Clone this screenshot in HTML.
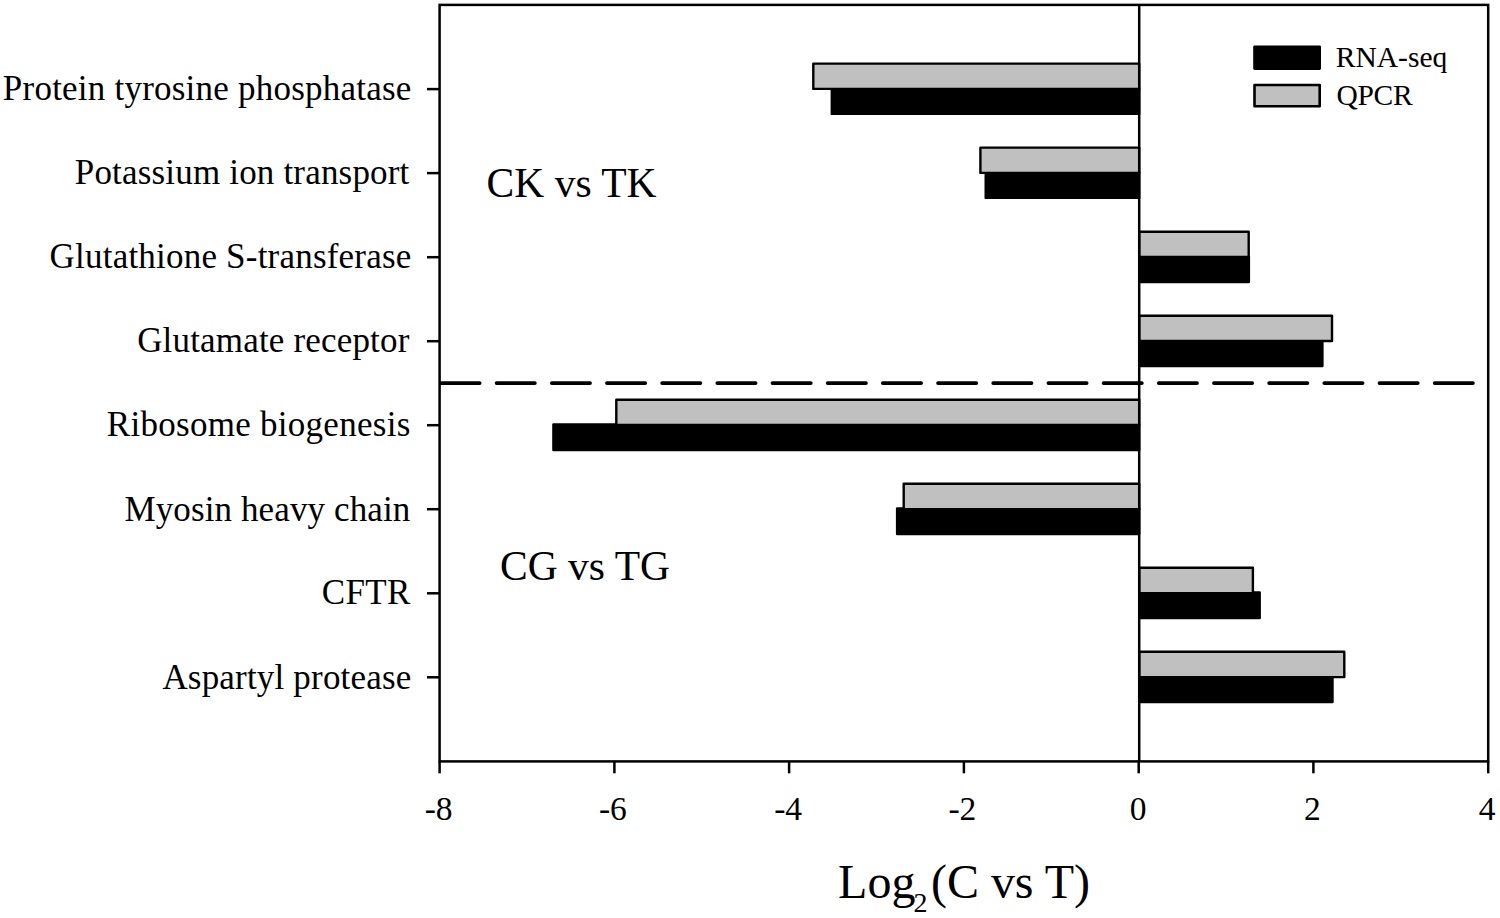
<!DOCTYPE html>
<html><head><meta charset="utf-8"><style>
html,body{margin:0;padding:0;background:#fff;width:1500px;height:918px;overflow:hidden}
svg{display:block}
text{font-family:"Liberation Serif",serif;fill:#000}
</style></head><body>
<svg width="1500" height="918" viewBox="0 0 1500 918">
<rect x="831.8" y="88.3" width="307.4" height="25.6" fill="#000" stroke="#000" stroke-width="2.4" stroke-linejoin="round"/>
<rect x="813.3" y="63.6" width="325.9" height="25.3" fill="#c0c0c0" stroke="#000" stroke-width="2.4" stroke-linejoin="round"/>
<rect x="985.7" y="172.3" width="153.5" height="25.6" fill="#000" stroke="#000" stroke-width="2.4" stroke-linejoin="round"/>
<rect x="980.4" y="147.6" width="158.8" height="25.3" fill="#c0c0c0" stroke="#000" stroke-width="2.4" stroke-linejoin="round"/>
<rect x="1139.2" y="256.4" width="109.7" height="25.6" fill="#000" stroke="#000" stroke-width="2.4" stroke-linejoin="round"/>
<rect x="1139.2" y="231.7" width="109.5" height="25.3" fill="#c0c0c0" stroke="#000" stroke-width="2.4" stroke-linejoin="round"/>
<rect x="1139.2" y="340.4" width="183.2" height="25.6" fill="#000" stroke="#000" stroke-width="2.4" stroke-linejoin="round"/>
<rect x="1139.2" y="315.7" width="192.8" height="25.3" fill="#c0c0c0" stroke="#000" stroke-width="2.4" stroke-linejoin="round"/>
<rect x="553.4" y="424.4" width="585.8" height="25.6" fill="#000" stroke="#000" stroke-width="2.4" stroke-linejoin="round"/>
<rect x="616.3" y="399.7" width="522.9" height="25.3" fill="#c0c0c0" stroke="#000" stroke-width="2.4" stroke-linejoin="round"/>
<rect x="897.1" y="508.4" width="242.1" height="25.6" fill="#000" stroke="#000" stroke-width="2.4" stroke-linejoin="round"/>
<rect x="903.7" y="483.8" width="235.5" height="25.3" fill="#c0c0c0" stroke="#000" stroke-width="2.4" stroke-linejoin="round"/>
<rect x="1139.2" y="592.5" width="120.5" height="25.6" fill="#000" stroke="#000" stroke-width="2.4" stroke-linejoin="round"/>
<rect x="1139.2" y="567.8" width="113.7" height="25.3" fill="#c0c0c0" stroke="#000" stroke-width="2.4" stroke-linejoin="round"/>
<rect x="1139.2" y="676.5" width="193.3" height="25.6" fill="#000" stroke="#000" stroke-width="2.4" stroke-linejoin="round"/>
<rect x="1139.2" y="651.8" width="205.1" height="25.3" fill="#c0c0c0" stroke="#000" stroke-width="2.4" stroke-linejoin="round"/>
<line x1="441.4" y1="383.1" x2="1488.2" y2="383.1" stroke="#000" stroke-width="3.7" stroke-linecap="round" stroke-dasharray="38.3 16.88"/>
<line x1="1139.2" y1="4.9" x2="1139.2" y2="761.4" stroke="#000" stroke-width="2.5"/>
<rect x="439.6" y="4.9" width="1048.6" height="756.5" fill="none" stroke="#000" stroke-width="2.5"/>
<line x1="427" y1="89.1" x2="439.6" y2="89.1" stroke="#000" stroke-width="2.5"/>
<line x1="427" y1="173.1" x2="439.6" y2="173.1" stroke="#000" stroke-width="2.5"/>
<line x1="427" y1="257.2" x2="439.6" y2="257.2" stroke="#000" stroke-width="2.5"/>
<line x1="427" y1="341.2" x2="439.6" y2="341.2" stroke="#000" stroke-width="2.5"/>
<line x1="427" y1="425.2" x2="439.6" y2="425.2" stroke="#000" stroke-width="2.5"/>
<line x1="427" y1="509.2" x2="439.6" y2="509.2" stroke="#000" stroke-width="2.5"/>
<line x1="427" y1="593.3" x2="439.6" y2="593.3" stroke="#000" stroke-width="2.5"/>
<line x1="427" y1="677.3" x2="439.6" y2="677.3" stroke="#000" stroke-width="2.5"/>
<line x1="439.6" y1="761.4" x2="439.6" y2="773.3" stroke="#000" stroke-width="2.5"/>
<text id="xl0" x="438.60" y="820.40" font-size="33.5" text-anchor="middle">-8</text>
<line x1="614.4" y1="761.4" x2="614.4" y2="773.3" stroke="#000" stroke-width="2.5"/>
<text id="xl1" x="612.87" y="820.40" font-size="33.5" text-anchor="middle">-6</text>
<line x1="789.1" y1="761.4" x2="789.1" y2="773.3" stroke="#000" stroke-width="2.5"/>
<text id="xl2" x="788.13" y="820.40" font-size="33.5" text-anchor="middle">-4</text>
<line x1="963.9" y1="761.4" x2="963.9" y2="773.3" stroke="#000" stroke-width="2.5"/>
<text id="xl3" x="962.40" y="820.40" font-size="33.5" text-anchor="middle">-2</text>
<line x1="1138.7" y1="761.4" x2="1138.7" y2="773.3" stroke="#000" stroke-width="2.5"/>
<text id="xl4" x="1138.17" y="820.40" font-size="33.5" text-anchor="middle">0</text>
<line x1="1313.4" y1="761.4" x2="1313.4" y2="773.3" stroke="#000" stroke-width="2.5"/>
<text id="xl5" x="1312.43" y="820.40" font-size="33.5" text-anchor="middle">2</text>
<line x1="1488.2" y1="761.4" x2="1488.2" y2="773.3" stroke="#000" stroke-width="2.5"/>
<text id="xl6" x="1487.20" y="820.40" font-size="33.5" text-anchor="middle">4</text>
<text id="yl0" x="411.30" y="99.80" font-size="35" text-anchor="end" textLength="408.44" lengthAdjust="spacing">Protein tyrosine phosphatase</text>
<text id="yl1" x="409.30" y="183.60" font-size="35" text-anchor="end" textLength="334.56" lengthAdjust="spacing">Potassium ion transport</text>
<text id="yl2" x="411.30" y="267.70" font-size="35" text-anchor="end" textLength="361.69" lengthAdjust="spacing">Glutathione S-transferase</text>
<text id="yl3" x="409.30" y="351.60" font-size="35" text-anchor="end" textLength="272.17" lengthAdjust="spacing">Glutamate receptor</text>
<text id="yl4" x="410.30" y="436.30" font-size="35" text-anchor="end" textLength="303.47" lengthAdjust="spacing">Ribosome biogenesis</text>
<text id="yl5" x="410.30" y="520.60" font-size="35" text-anchor="end" textLength="285.83" lengthAdjust="spacing">Myosin heavy chain</text>
<text id="yl6" x="410.30" y="604.40" font-size="35" text-anchor="end" textLength="88.55" lengthAdjust="spacing">CFTR</text>
<text id="yl7" x="411.30" y="688.50" font-size="35" text-anchor="end" textLength="248.89" lengthAdjust="spacing">Aspartyl protease</text>
<rect x="1254.5" y="46.9" width="65.2" height="21.7" fill="#000" stroke="#000" stroke-width="2.6" stroke-linejoin="round"/>
<rect x="1254.5" y="85" width="65.2" height="21.3" fill="#c0c0c0" stroke="#000" stroke-width="2.6" stroke-linejoin="round"/>
<text id="lg0" x="1335.80" y="67.00" font-size="29.5" text-anchor="start" textLength="111.44" lengthAdjust="spacing">RNA-seq</text>
<text id="lg1" x="1336.50" y="105.10" font-size="29.5" text-anchor="start" textLength="76.08" lengthAdjust="spacing">QPCR</text>
<text id="g0" x="486.60" y="197.40" font-size="43" text-anchor="start" textLength="170.02" lengthAdjust="spacingAndGlyphs">CK vs TK</text>
<text id="g1" x="500.00" y="580.30" font-size="43" text-anchor="start" textLength="170.02" lengthAdjust="spacingAndGlyphs">CG vs TG</text>
<text id="ttl0" x="838.10" y="898.00" font-size="48" text-anchor="start">Log</text>
<text id="ttl1" x="913.40" y="912.30" font-size="28" text-anchor="start">2</text>
<text id="ttl2" x="931.00" y="898.00" font-size="48" text-anchor="start" textLength="158.92" lengthAdjust="spacing">(C vs T)</text>
</svg></body></html>
